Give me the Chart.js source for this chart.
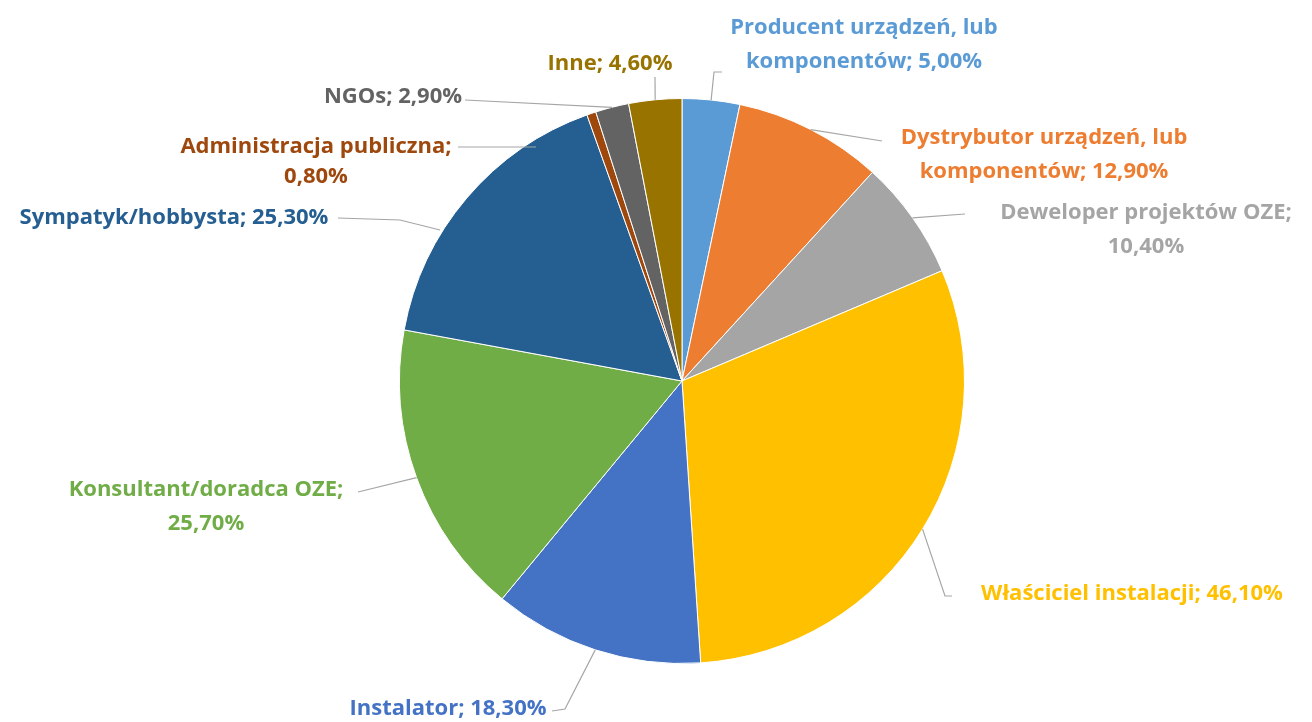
<!DOCTYPE html>
<html>
<head>
<meta charset="utf-8">
<script src="https://cdn.jsdelivr.net/npm/chart.js@4.4.1/dist/chart.umd.min.js"></script>
<style>
  html, body { margin: 0; padding: 0; background: #fff; }
  canvas { display: block; }
</style>
</head>
<body>
<canvas id="pieChart" width="1312" height="722"></canvas>
<script>
// categories and shares (in %, respondents could pick more than one)
const categories = [
    'Producent urządzeń, lub komponentów',
    'Dystrybutor urządzeń, lub komponentów',
    'Deweloper projektów OZE',
    'Właściciel instalacji',
    'Instalator',
    'Konsultant/doradca OZE',
    'Sympatyk/hobbysta',
    'Administracja publiczna',
    'NGOs',
    'Inne'
];
const shares = [5.0, 12.9, 10.4, 46.1, 18.3, 25.7, 25.3, 0.8, 2.9, 4.6];
const sliceColors = [
    '#5B9BD5', '#ED7D31', '#A5A5A5', '#FFC000', '#4472C4',
    '#70AD47', '#255E91', '#9E480E', '#636363', '#997300'
];

// data label placement: text centre x, first line y, words on the first line (0 = one line),
// leader elbow points, optional fixed end of the leader
const labelLayout = [
    { x: 864, y: 28, words: 3, elbow: [[722, 72], [714, 72]] },
    { x: 1044, y: 138, words: 3, elbow: [[882, 141]] },
    { x: 1146, y: 213, words: 3, elbow: [[965, 214]] },
    { x: 1132, y: 594, words: 0, elbow: [[952, 596], [945, 596]] },
    { x: 448, y: 709, words: 0, elbow: [[552, 711], [565, 709]] },
    { x: 206, y: 490, words: 2, elbow: [[358, 492]] },
    { x: 174, y: 218, words: 0, elbow: [[338, 218], [400, 220]], end: [440, 230] },
    { x: 316, y: 147, words: 2, gap: 30, elbow: [[458, 147]], end: [536, 147] },
    { x: 393, y: 97, words: 0, elbow: [[465, 100]] },
    { x: 610, y: 64, words: 0, elbow: [[655, 77]] }
];

const formatPct = v => v.toFixed(2).replace('.', ',') + '%';

const dataLabels = {
    id: 'dataLabels',
    afterDatasetsDraw(chart) {
        const ctx = chart.ctx;
        const meta = chart.getDatasetMeta(0);
        ctx.save();
        ctx.font = 'bold 22px "Open Sans", Lato, sans-serif';
        ctx.textAlign = 'center';
        ctx.textBaseline = 'middle';
        meta.data.forEach((arc, i) => {
            const p = arc.getProps(['x', 'y', 'startAngle', 'endAngle', 'outerRadius'], true);
            const mid = (p.startAngle + p.endAngle) / 2;
            const lay = labelLayout[i];
            const end = lay.end || [p.x + Math.cos(mid) * p.outerRadius, p.y + Math.sin(mid) * p.outerRadius];

            // leader line
            ctx.strokeStyle = '#A6A6A6';
            ctx.lineWidth = 1.2;
            ctx.beginPath();
            ctx.moveTo(lay.elbow[0][0], lay.elbow[0][1]);
            lay.elbow.slice(1).forEach(pt => ctx.lineTo(pt[0], pt[1]));
            ctx.lineTo(end[0], end[1]);
            ctx.stroke();

            // label text, broken after the given number of words
            const words = (categories[i] + '; ' + formatPct(shares[i])).split(' ');
            const lines = lay.words ? [words.slice(0, lay.words).join(' '), words.slice(lay.words).join(' ')]
                                    : [words.join(' ')];
            ctx.fillStyle = sliceColors[i];
            lines.forEach((ln, k) => ctx.fillText(ln, lay.x, lay.y + k * (lay.gap || 34)));
        });
        ctx.restore();
    }
};

const ctx = document.getElementById('pieChart').getContext('2d');
const chart = new Chart(ctx, {
    type: 'pie',
    data: {
        labels: categories,
        datasets: [{
            data: shares,
            backgroundColor: sliceColors,
            borderColor: '#ffffff',
            borderWidth: 1
        }]
    },
    options: {
        responsive: false,
        animation: false,
        layout: {
            padding: { top: 98, bottom: 58, left: 300, right: 248 }
        },
        plugins: {
            legend: { display: false },
            tooltip: { enabled: false }
        }
    },
    plugins: [dataLabels]
});
</script>
</body>
</html>
